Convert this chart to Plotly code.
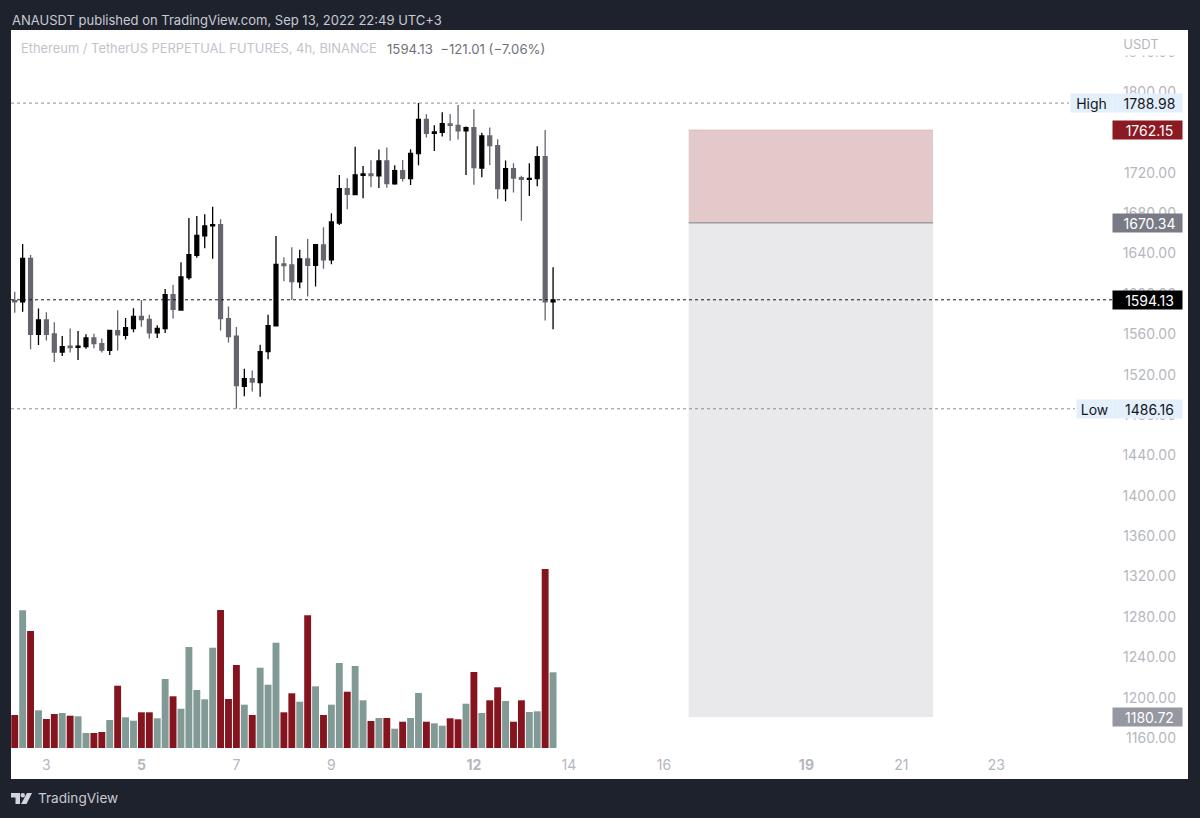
import pandas as pd
import plotly.graph_objects as go

# Candles (4h, starting Sep 2 08:00)
start_time = "2022-09-02 08:00"
opens = [1593.3, 1592.0, 1635.2, 1559.9, 1574.1, 1560.3, 1542.4, 1548.1, 1547.1, 1547.7,
         1556.3, 1550.7, 1544.1, 1563.6, 1559.0, 1565.6, 1577.8, 1574.8, 1561.3, 1565.6,
         1599.2, 1584.0, 1616.1, 1638.2, 1657.4, 1667.3, 1668.6, 1575.5, 1558.0, 1508.4,
         1516.0, 1512.1, 1542.8, 1568.2, 1629.6, 1628.6, 1611.8, 1634.6, 1628.3, 1648.4,
         1633.6, 1670.2, 1704.2, 1698.3, 1717.4, 1718.8, 1716.8, 1731.6, 1708.9, 1722.1,
         1714.2, 1738.9, 1772.9, 1759.1, 1760.0, 1768.3, 1767.0, 1761.4, 1764.7, 1724.7,
         1756.4, 1746.8, 1704.2, 1724.1, 1715.1, 1713.5, 1714.2, 1735.9, 1592.0]
highs = [1602.2, 1649.4, 1638.5, 1585.4, 1581.7, 1571.8, 1558.3, 1565.6, 1563.3, 1559.9,
         1560.6, 1555.7, 1564.2, 1583.7, 1576.1, 1585.7, 1594.0, 1579.4, 1568.9, 1604.9,
         1609.1, 1631.3, 1675.2, 1677.2, 1678.8, 1686.4, 1673.9, 1587.4, 1567.2, 1525.9,
         1524.0, 1549.7, 1579.4, 1657.4, 1636.2, 1646.1, 1643.8, 1654.4, 1649.1, 1665.9,
         1679.8, 1717.8, 1714.5, 1745.8, 1726.7, 1732.3, 1742.9, 1744.9, 1727.4, 1732.6,
         1743.2, 1788.98, 1777.9, 1767.0, 1779.9, 1778.2, 1787.1, 1765.7, 1782.8, 1759.7,
         1764.7, 1753.1, 1732.0, 1729.3, 1717.1, 1729.3, 1746.2, 1762.4, 1626.3]
lows = [1581.4, 1582.4, 1545.1, 1549.4, 1553.7, 1532.5, 1538.5, 1541.8, 1534.5, 1545.7,
        1546.1, 1541.8, 1539.5, 1543.8, 1554.7, 1561.9, 1567.5, 1555.7, 1556.3, 1561.3,
        1575.5, 1584.0, 1614.1, 1635.9, 1645.1, 1634.9, 1563.6, 1551.7, 1486.16, 1498.5,
        1503.2, 1498.2, 1535.2, 1568.2, 1612.4, 1594.0, 1605.5, 1597.3, 1607.2, 1625.0,
        1629.3, 1668.3, 1683.8, 1698.3, 1694.7, 1705.6, 1704.9, 1705.2, 1708.2, 1711.2,
        1707.9, 1727.4, 1754.8, 1741.6, 1755.8, 1751.8, 1752.8, 1717.8, 1708.2, 1715.5,
        1727.7, 1694.3, 1691.7, 1700.3, 1672.5, 1697.0, 1706.6, 1573.5, 1564.9]
closes = [1592.0, 1635.2, 1559.9, 1574.1, 1559.9, 1542.4, 1547.7, 1546.7, 1548.1, 1556.3,
          1550.7, 1544.4, 1563.9, 1559.3, 1566.5, 1577.8, 1574.5, 1561.3, 1565.9, 1599.2,
          1584.7, 1616.7, 1638.9, 1658.0, 1667.3, 1668.6, 1575.5, 1557.6, 1509.1, 1516.0,
          1512.7, 1542.8, 1568.5, 1629.3, 1628.0, 1612.1, 1634.6, 1628.3, 1648.8, 1633.6,
          1671.2, 1704.2, 1698.6, 1717.8, 1718.8, 1717.1, 1731.6, 1709.2, 1722.1, 1714.5,
          1739.2, 1772.9, 1759.1, 1760.4, 1768.6, 1767.0, 1761.4, 1764.7, 1725.0, 1756.4,
          1746.8, 1704.2, 1724.1, 1714.8, 1713.5, 1714.5, 1735.9, 1592.0, 1594.13]
volumes = [33, 137.7, 117, 37.7, 29, 34, 35, 32.3, 31.7, 15,
           15, 16, 28, 62.3, 30.7, 27.3, 35.7, 35.7, 29.7, 69,
           51.7, 39.3, 101, 58, 48.7, 100.3, 138, 49, 83, 43.3,
           33, 80.3, 63.3, 105.3, 35.7, 54.7, 46.3, 132.7, 61.7, 33,
           43.3, 85, 56.3, 82, 47.7, 27, 30, 30, 19.3, 26.3,
           30, 55, 26.3, 24.7, 22.3, 29.7, 28.7, 44.3, 76, 35,
           47.7, 60.7, 47, 26.3, 47.7, 36, 36.7, 179, 75.7]

# Axis ticks
price_ticks = list(range(1160, 1841, 40))
date_ticks = ["2022-09-03", "2022-09-05", "2022-09-07", "2022-09-09", "2022-09-12",
              "2022-09-14", "2022-09-16", "2022-09-19", "2022-09-21", "2022-09-23"]
date_labels = ["3", "<b>5</b>", "7", "9", "<b>12</b>", "14", "16", "<b>19</b>", "21", "23"]

# Levels shown on the chart
high_price = 1788.98
low_price = 1486.16
last_price = 1594.13
stop_price = 1762.15
entry_price = 1670.34
target_price = 1180.72
box_start = "2022-09-16 12:30"
box_end = "2022-09-21 16:00"

# Colours
frame_color = "#1e222d"
candle_up = "#000000"
candle_down = "#65656f"
vol_up = "#829a96"
vol_down = "#86141f"
tick_color = "#b5b7c0"
font_name = "Inter"

# Plot area in page pixels, overlays below are placed with these
left, right, top, bottom = 11, 1188, 30, 779


def px(x):
    return (x - left) / (right - left)


def py(y):
    return (bottom - y) / (bottom - top)


times = pd.date_range(start_time, periods=len(opens), freq="4h")
vol_colors = [vol_up if c >= o else vol_down for o, c in zip(opens, closes)]

fig = go.Figure()
fig.add_trace(go.Bar(x=times, y=volumes, marker_color=vol_colors, marker_line_width=0,
                     yaxis="y2", showlegend=False))
fig.add_trace(go.Candlestick(x=times, open=opens, high=highs, low=lows, close=closes,
                             increasing=dict(line=dict(color=candle_up, width=1.3),
                                             fillcolor=candle_up),
                             decreasing=dict(line=dict(color=candle_down, width=1.3),
                                             fillcolor=candle_down),
                             whiskerwidth=0, showlegend=False))

# Position boxes
fig.add_shape(type="rect", x0=box_start, x1=box_end, y0=entry_price, y1=stop_price,
              fillcolor="#e4c9cb", line_width=0, layer="below")
fig.add_shape(type="rect", x0=box_start, x1=box_end, y0=target_price, y1=entry_price,
              fillcolor="#e9e9eb", line_width=0, layer="below")
fig.add_shape(type="line", x0=box_start, x1=box_end, y0=entry_price, y1=entry_price,
              line=dict(color="#787b86", width=1))
fig.add_shape(type="line", x0=box_start, x1=box_end, y0=stop_price, y1=stop_price,
              line=dict(color="#d9b3b6", width=1))

# Dotted level lines
for price, x_end, color in [(high_price, 1069, "#8a8d96"), (low_price, 1075, "#8a8d96"),
                            (last_price, 1112, "#131722")]:
    fig.add_shape(type="line", xref="paper", yref="y", x0=0, x1=px(x_end), y0=price, y1=price,
                  line=dict(color=color, width=1, dash="dot"))

# TradingView logo
logo_parts = [[(11, 793), (20, 793), (20, 804), (15.5, 804), (15.5, 797.5), (11, 797.5)],
              [(27, 793), (32, 793), (26.5, 804), (21, 804)]]
for part in logo_parts:
    path = "M " + " L ".join(f"{px(x):.5f},{py(y):.5f}" for x, y in part) + " Z"
    fig.add_shape(type="path", xref="paper", yref="paper", path=path,
                  fillcolor="#d1d4dc", line_width=0)
fig.add_shape(type="circle", xref="paper", yref="paper", x0=px(20.5), x1=px(25), y0=py(797.5),
              y1=py(793), fillcolor="#d1d4dc", line_width=0)


def add_text(x, y, text, color, size=13, anchor="left"):
    fig.add_annotation(xref="paper", yref="paper", x=px(x), y=py(y), text=text, showarrow=False,
                       xanchor=anchor, yanchor="middle", borderpad=0,
                       font=dict(family=font_name, size=size, color=color))


def add_tag(x, width, price, text, bg, color):
    fig.add_annotation(xref="paper", yref="y", x=px(x), y=price, text=text, showarrow=False,
                       xanchor="left", yanchor="middle", width=width, height=18, align="center",
                       bgcolor=bg, borderpad=0,
                       font=dict(family=font_name, size=14, color=color))


add_text(11, 20, "ANAUSDT published on TradingView.com, Sep 13, 2022 22:49 UTC+3", "#c9cbd2")
add_text(20, 49, "Ethereum / TetherUS PERPETUAL FUTURES, 4h, BINANCE", "#c2c4cc", size=12.9)
add_text(386, 49, "1594.13&nbsp;&nbsp;−121.01 (−7.06%)", "#6f717a", size=13.2)
add_text(37, 798, "TradingView", "#c9cbd2", size=13.6)
# white backing hides most of the topmost price label, as in the original
fig.add_annotation(xref="paper", yref="paper", x=px(1150), y=py(44), text="USDT", showarrow=False,
                   xanchor="center", yanchor="middle", width=74, height=20, bgcolor="#ffffff",
                   font=dict(family=font_name, size=13, color=tick_color), xshift=-9)

add_tag(1070, 41, high_price, "High", "#e3effb", "#131722")
add_tag(1112, 69, high_price, "&nbsp;1788.98", "#e3effb", "#131722")
add_tag(1112, 69, stop_price, "&nbsp;1762.15", "#8c1a22", "#ffffff")
add_tag(1112, 69, entry_price, "&nbsp;1670.34", "#787b86", "#ffffff")
add_tag(1112, 69, last_price, "&nbsp;1594.13", "#000000", "#ffffff")
add_tag(1076, 35, low_price, "Low", "#e3effb", "#131722")
add_tag(1112, 69, low_price, "&nbsp;1486.16", "#e3effb", "#131722")
add_tag(1112, 69, target_price, "&nbsp;1180.72", "#9598a1", "#ffffff")

fig.update_layout(
    width=1200, height=818, autosize=False,
    margin=dict(l=left, r=1200 - right, t=top, b=818 - bottom),
    paper_bgcolor=frame_color, plot_bgcolor="#ffffff",
    font=dict(family=font_name, size=14, color=tick_color),
    bargap=0.13, showlegend=False,
    xaxis=dict(type="date", range=["2022-09-02 06:07", "2022-09-27 00:48"],
               rangeslider_visible=False, showgrid=False, zeroline=False, showline=False,
               tickmode="array", tickvals=date_ticks, ticktext=date_labels,
               ticklabelposition="inside", ticklabelstandoff=3, ticks="",
               tickfont=dict(family=font_name, size=14, color=tick_color), tickangle=0),
    yaxis=dict(range=[1119.4, 1861.4], side="right", showgrid=False, zeroline=False,
               tickmode="array", tickvals=price_ticks,
               ticktext=[f"{p:.2f}" for p in price_ticks],
               ticklabelposition="inside", ticklabelstandoff=9, ticks="",
               tickfont=dict(family=font_name, size=14, color=tick_color)),
    # volume axis shares the plot, zero sits above the date labels
    yaxis2=dict(overlaying="y", range=[-31, 718], showgrid=False, zeroline=False,
                showticklabels=False, ticks=""),
)

fig.write_html("out.html", config={"displayModeBar": False},
               post_script="document.body.style.margin='0';"
                           f"document.body.style.background='{frame_color}';")
